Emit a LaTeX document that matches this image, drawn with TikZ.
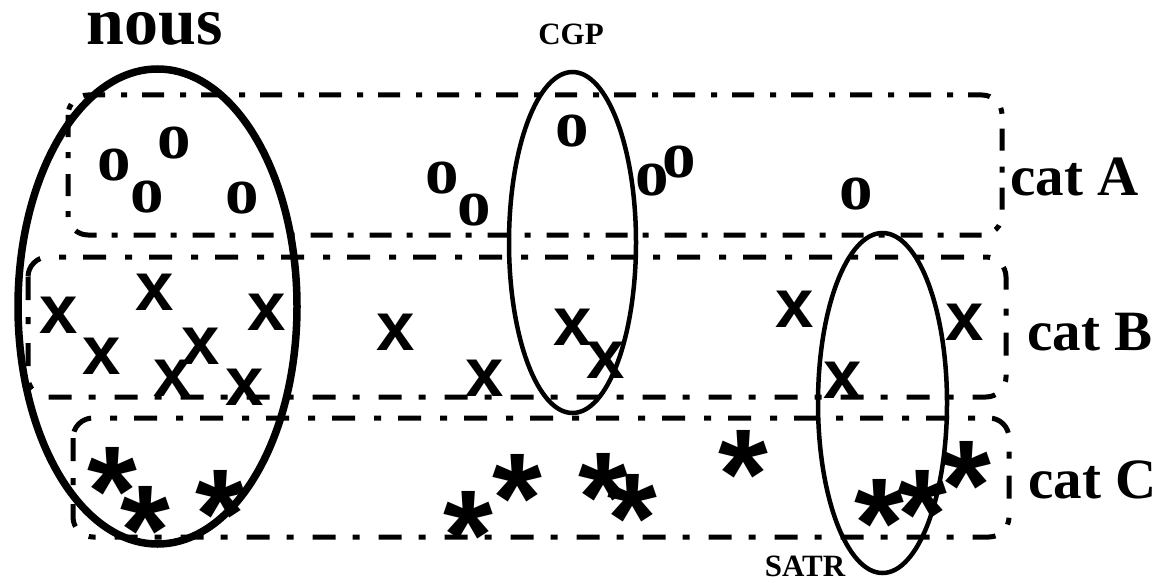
\documentclass[tikz,border=0pt]{standalone}
\usepackage{fontspec}
\setmainfont{Liberation Serif}
\newfontfamily\sansb{Liberation Sans}
\tikzset{
  catbox/.style={line width=5pt, rounded corners=20pt},
  dashA/.style={dash pattern=on 22pt off 15pt on 6pt off 16pt},
  dashBC/.style={dash pattern=on 23pt off 17pt on 7pt off 19pt},
  setthick/.style={line width=7.5pt},
  setthin/.style={line width=4.5pt},
  omark/.style={font=\fontsize{67}{67}\selectfont\bfseries, inner sep=0pt, text height=0.5em, text depth=0pt, anchor=base, yshift=-15.4pt},
  xmark/.style={font=\sansb\fontsize{69}{69}\selectfont\bfseries, inner sep=0pt, text height=0.55em, text depth=0pt, anchor=base, yshift=-18pt},
  amark/.style={font=\sansb\fontsize{128}{128}\selectfont\bfseries, inner sep=0pt, text height=0.73em, text depth=0pt, anchor=base, yshift=-62pt},
  biglabel/.style={font=\fontsize{68}{70}\selectfont\bfseries, inner sep=0pt, text height=0.5em, text depth=0pt, anchor=base},
  catlabel/.style={font=\fontsize{57}{60}\selectfont\bfseries, inner sep=0pt, anchor=base west},
  smalllabel/.style={font=\fontsize{31}{33}\selectfont\bfseries, inner sep=0pt, text depth=0pt, anchor=base},
}
\begin{document}
\begin{tikzpicture}[x=1pt,y=-1pt]
\useasboundingbox (0,0) rectangle (1169,583);
% category boxes
\draw[catbox, dashA] (68,95) rectangle (1002,235);
\draw[catbox, dashBC] (28,257) rectangle (1006,397);
\draw[catbox, dashBC] (73,418) rectangle (1009,537);
% sets
\draw[setthick] (157.5,306.5) ellipse [x radius=139.5, y radius=237.5];
\draw[setthin] (572.5,242.5) ellipse [x radius=63.5, y radius=170.5];
\draw[setthin] (882.5,403) ellipse [x radius=64.5, y radius=170];
% labels
\node[biglabel] (nous) at (155,45) {nous};
\node[smalllabel] (cgp) at (571,45) {CGP};
\node[smalllabel] (satr) at (805,576) {SATR};
\node[catlabel] (catA) at (1010,195) {cat A};
\node[catlabel] (catB) at (1027,350) {cat B};
\node[catlabel] (catC) at (1028,498) {cat C};
% cat A items
\node[omark] (o1) at (114,165) {o};
\node[omark] (o2) at (174,143) {o};
\node[omark] (o3) at (147,197) {o};
\node[omark] (o4) at (242,198) {o};
\node[omark] (o5) at (442,178) {o};
\node[omark] (o6) at (474,210) {o};
\node[omark] (o7) at (572,131) {o};
\node[omark] (o8) at (652,180) {o};
\node[omark] (o9) at (679,162) {o};
\node[omark] (o10) at (856,194) {o};
% cat B items
\node[xmark] (x1) at (59,315) {x};
\node[xmark] (x2) at (155,292) {x};
\node[xmark] (x3) at (102,356) {x};
\node[xmark] (x4) at (201,346) {x};
\node[xmark] (x5) at (173,378) {x};
\node[xmark] (x6) at (245,387) {x};
\node[xmark] (x7) at (267,312) {x};
\node[xmark] (x8) at (396,332) {x};
\node[xmark] (x9) at (485,378) {x};
\node[xmark] (x10) at (573,327) {x};
\node[xmark] (x11) at (606,360) {x};
\node[xmark] (x12) at (795,309) {x};
\node[xmark] (x13) at (843,380) {x};
\node[xmark] (x14) at (965,322) {x};
% cat C items
\node[amark] (a1) at (112,473) {*};
\node[amark] (a2) at (145,512) {*};
\node[amark] (a3) at (220,496) {*};
\node[amark] (a4) at (468,517) {*};
\node[amark] (a5) at (517,480) {*};
\node[amark] (a6) at (603,479) {*};
\node[amark] (a7) at (632,500) {*};
\node[amark] (a8) at (743,456) {*};
\node[amark] (a9) at (879,505) {*};
\node[amark] (a10) at (922,496) {*};
\node[amark] (a11) at (966,467) {*};
\end{tikzpicture}
\end{document}
